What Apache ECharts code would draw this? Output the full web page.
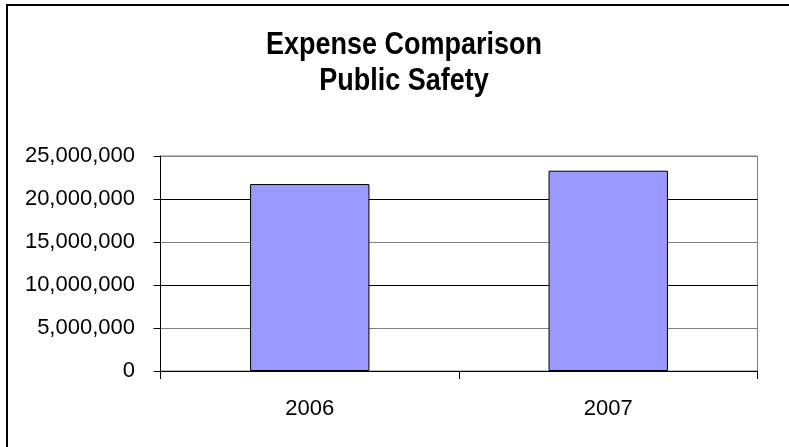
<!DOCTYPE html>
<html>
<head>
<meta charset="utf-8">
<script src="https://cdn.jsdelivr.net/npm/echarts@6/dist/echarts.min.js"></script>
<style>
html,body{margin:0;padding:0;background:#fff;}
#chart{width:789px;height:447px;}
</style>
</head>
<body>
<div id="chart"></div>
<script>
const titleLines = ['Expense Comparison', 'Public Safety'];
const categories = ['2006', '2007'];
const expenses = [21740000, 23290000];
const yTicks = { min: 0, max: 25000000, interval: 5000000 };

const chart = echarts.init(document.getElementById('chart'), null, { renderer: 'canvas' });
const font = '"Liberation Sans", Arial, sans-serif';
chart.setOption({
  animation: false,
  backgroundColor: '#fff',
  graphic: [{
    type: 'rect',
    shape: { x: 7, y: 5, width: 900, height: 600 },
    style: { fill: 'none', stroke: '#000', lineWidth: 2 },
    silent: true
  }, {
    type: 'text',
    x: 404, y: 27,
    scaleX: 1, scaleY: 1.17,
    style: {
      text: titleLines.join('\n'),
      align: 'center', verticalAlign: 'top',
      font: 'bold 27px "Liberation Sans", Arial, sans-serif',
      lineHeight: 31,
      fill: '#000'
    },
    silent: true
  }],
  grid: { left: 160.5, right: 31.5, top: 156, bottom: 76, show: true, borderColor: '#808080', borderWidth: 1, backgroundColor: 'transparent' },
  xAxis: {
    type: 'category',
    data: categories,
    axisLine: { lineStyle: { color: '#000', width: 1 } },
    axisTick: { show: true, length: 8, lineStyle: { color: '#000' } },
    axisLabel: { fontFamily: font, fontSize: 22, color: '#000', margin: 27 },
    splitLine: { show: false }
  },
  yAxis: {
    type: 'value',
    min: yTicks.min, max: yTicks.max, interval: yTicks.interval,
    axisLine: { show: true, lineStyle: { color: '#000', width: 1 } },
    axisTick: { show: true, length: 7, lineStyle: { color: '#000' } },
    axisLabel: {
      fontFamily: font, fontSize: 22, color: '#000', margin: 25.5,
      formatter: v => v.toLocaleString('en-US')
    },
    splitLine: { show: true, lineStyle: { color: ['#000', '#808080'], width: 1 } }
  },
  series: [{
    type: 'bar',
    data: expenses,
    barWidth: '40%',
    itemStyle: { color: '#9999ff', borderColor: '#000', borderWidth: 1 }
  }]
});
</script>
</body>
</html>
